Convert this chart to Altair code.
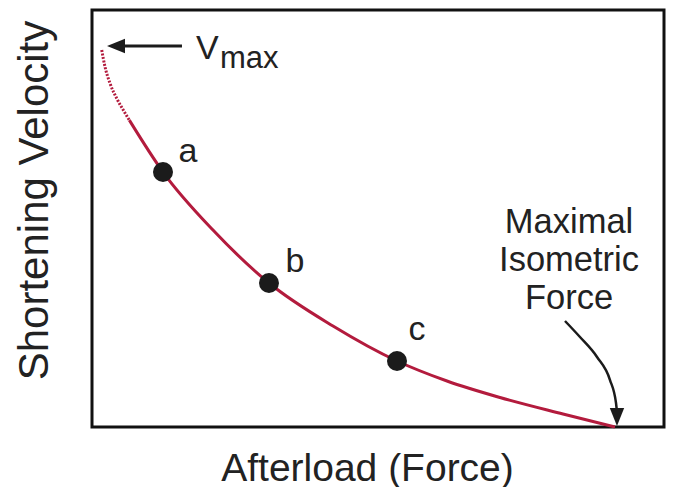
import altair as alt
import pandas as pd

# Force-velocity relation, both axes on a 0-100 scale
dotted_force = [1.70, 2.27, 3.15, 4.32, 5.47, 6.52]
dotted_velocity = [90.4, 86.4, 82.4, 78.8, 76.0, 73.6]
solid_force = [6.52, 12.41, 21.15, 30.94, 42.13, 53.32, 62.06, 71.33, 82.34, 91.43]
solid_velocity = [73.6, 61.15, 47.24, 34.53, 24.22, 15.83, 11.03, 7.07, 3.12, 0.0]

point_labels = ["a", "b", "c"]
point_force = [12.41, 30.94, 53.32]
point_velocity = [61.15, 34.53, 15.83]
label_force = [16.78, 35.49, 56.82]
label_velocity = [63.55, 37.17, 20.86]

# Annotation: Vmax arrow and Maximal Isometric Force arrow
vmax_arrow_force = [5.77, 15.73]
vmax_arrow_velocity = [91.37, 91.37]
vmax_head_force = [4.20]
vmax_head_velocity = [91.37]
vmax_text_force = [18.18, 22.38]
vmax_text_velocity = [88.25, 86.1]
vmax_text = ["V", "max"]
vmax_text_size = [34, 31]

iso_text = ["Maximal\nIsometric\nForce"]
iso_text_force = [83.4]
iso_text_velocity = [46.5]
iso_arrow_force = [82.69, 85.31, 88.29, 90.56, 91.61, 91.78]
iso_arrow_velocity = [25.42, 21.58, 16.79, 11.27, 5.76, 3.6]
iso_head_force = [91.78]
iso_head_velocity = [2.4]

FONT = "Liberation Sans"
RED = "#b31b3d"

x_scale = alt.Scale(domain=[0, 100], nice=False, zero=False)
y_scale = alt.Scale(domain=[0, 100], nice=False, zero=False)

x_axis = alt.Axis(labels=False, ticks=False, domain=False, grid=False,
                  title="Afterload (Force)", titleFont=FONT, titleFontSize=39,
                  titleFontWeight="normal", titleColor="#222",
                  titleX=275, titleY=53, titleBaseline="alphabetic", titleAlign="center")
y_axis = alt.Axis(labels=False, ticks=False, domain=False, grid=False,
                  title="Shortening Velocity", titleFont=FONT, titleFontSize=42,
                  titleFontWeight="normal", titleColor="#222",
                  titleX=-45, titleY=190, titleBaseline="alphabetic", titleAlign="center",
                  titleAngle=270)

dotted_df = pd.DataFrame({"force": dotted_force, "velocity": dotted_velocity})
solid_df = pd.DataFrame({"force": solid_force, "velocity": solid_velocity})
pts_df = pd.DataFrame({"force": point_force, "velocity": point_velocity})
lab_df = pd.DataFrame({"force": label_force, "velocity": label_velocity, "label": point_labels})

X = alt.X("force:Q", scale=x_scale)
Y = alt.Y("velocity:Q", scale=y_scale)

solid = alt.Chart(solid_df).mark_line(color=RED, strokeWidth=3, interpolate="monotone").encode(
    x=alt.X("force:Q", scale=x_scale, axis=x_axis),
    y=alt.Y("velocity:Q", scale=y_scale, axis=y_axis))
dotted = alt.Chart(dotted_df).mark_line(color=RED, strokeWidth=3, strokeDash=[2, 1.5],
                                        interpolate="monotone").encode(x=X, y=Y)
points = alt.Chart(pts_df).mark_point(filled=True, size=400, color="#1b1b1b", opacity=1).encode(
    x=X, y=Y)
labels = alt.Chart(lab_df).mark_text(font=FONT, fontSize=34, color="#222",
                                     align="center", baseline="alphabetic").encode(
    x=X, y=Y, text="label:N")

vmax_line = alt.Chart(pd.DataFrame({"force": vmax_arrow_force, "velocity": vmax_arrow_velocity})).mark_line(
    color="#1b1b1b", strokeWidth=3).encode(x=X, y=Y)
vmax_head = alt.Chart(pd.DataFrame({"force": vmax_head_force, "velocity": vmax_head_velocity})).mark_point(
    shape="M -1 0 L 1 -0.8 L 1 0.8 Z", filled=True, size=324, color="#1b1b1b", opacity=1).encode(
    x=X, y=Y)
vmax_lab = alt.Chart(pd.DataFrame({"force": vmax_text_force, "velocity": vmax_text_velocity,
                                   "t": vmax_text, "s": vmax_text_size})).mark_text(
    font=FONT, color="#222", align="left", baseline="alphabetic").encode(
    x=X, y=Y, text="t:N", size=alt.Size("s:Q", scale=None, legend=None))

iso_lab = alt.Chart(pd.DataFrame({"force": iso_text_force, "velocity": iso_text_velocity,
                                  "t": iso_text})).mark_text(
    font=FONT, fontSize=34.5, color="#222", align="center", baseline="alphabetic",
    lineBreak="\n", lineHeight=38).encode(x=X, y=Y, text="t:N")
iso_line = alt.Chart(pd.DataFrame({"force": iso_arrow_force, "velocity": iso_arrow_velocity})).mark_line(
    color="#1b1b1b", strokeWidth=2.5, interpolate="monotone").encode(x=X, y=Y)
iso_head = alt.Chart(pd.DataFrame({"force": iso_head_force, "velocity": iso_head_velocity})).mark_point(
    shape="M -0.8 -1 L 0.8 -1 L 0 1 Z", filled=True, size=324, color="#1b1b1b", opacity=1).encode(
    x=X, y=Y)

chart = alt.layer(solid, dotted, points, labels, vmax_line, vmax_head, vmax_lab,
                  iso_lab, iso_line, iso_head).properties(
    width=572, height=417,
    autosize=alt.AutoSizeParams(type="none"),
    padding={"left": 84, "top": 2, "right": 2, "bottom": 60},
    background="white",
).configure_view(stroke="#111", strokeWidth=3, fill="white")

chart.save("out.html", embed_options={"renderer": "svg", "actions": False})
